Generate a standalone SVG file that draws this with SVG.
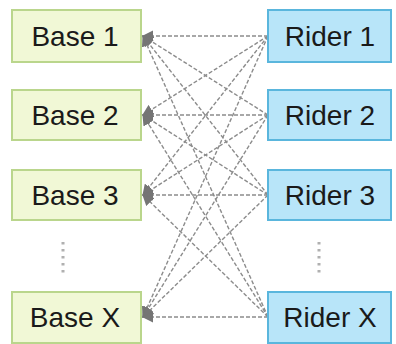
<svg xmlns="http://www.w3.org/2000/svg" width="396" height="344" viewBox="0 0 396 344">
<style>
.base{fill:#F1F8D6;stroke:#BAD68C;stroke-width:2}
.rider{fill:#B8E5F9;stroke:#5AB6DD;stroke-width:2}
.t{font-family:"Liberation Sans",Arial,sans-serif;font-size:28px;fill:#1a1a1a;text-anchor:middle}
.c{fill:none;stroke:#8c8c8c;stroke-width:1.4;stroke-dasharray:4 2;marker-end:url(#ah)}
.dots{stroke:#b0b0b0;stroke-width:3;stroke-dasharray:2.5 4.5}
</style>
<defs>
<marker id="ah" viewBox="0 0 10 10" refX="9" refY="5" markerWidth="8" markerHeight="8" orient="auto" markerUnits="strokeWidth">
<path d="M0,0 L10,5 L0,10 z" fill="#757575"/>
</marker>
</defs>
<rect width="396" height="344" fill="#fff"/>
<g id="connectors">
<line class="c" x1="268" y1="36" x2="143" y2="36"/>
<line class="c" x1="268" y1="36" x2="143" y2="115"/>
<line class="c" x1="268" y1="36" x2="143" y2="195"/>
<line class="c" x1="268" y1="36" x2="143" y2="317"/>
<line class="c" x1="268" y1="115" x2="143" y2="36"/>
<line class="c" x1="268" y1="115" x2="143" y2="115"/>
<line class="c" x1="268" y1="115" x2="143" y2="195"/>
<line class="c" x1="268" y1="115" x2="143" y2="317"/>
<line class="c" x1="268" y1="195" x2="143" y2="36"/>
<line class="c" x1="268" y1="195" x2="143" y2="115"/>
<line class="c" x1="268" y1="195" x2="143" y2="195"/>
<line class="c" x1="268" y1="195" x2="143" y2="317"/>
<line class="c" x1="268" y1="317" x2="143" y2="36"/>
<line class="c" x1="268" y1="317" x2="143" y2="115"/>
<line class="c" x1="268" y1="317" x2="143" y2="195"/>
<line class="c" x1="268" y1="317" x2="143" y2="317"/>
</g>
<g id="base1"><rect class="base" x="12" y="10" width="129" height="52"/><text class="t" x="75" y="46">Base 1</text></g>
<g id="base2"><rect class="base" x="12" y="90" width="129" height="50"/><text class="t" x="75" y="125">Base 2</text></g>
<g id="base3"><rect class="base" x="12" y="170" width="129" height="50"/><text class="t" x="75" y="205">Base 3</text></g>
<g id="baseX"><rect class="base" x="12" y="292" width="129" height="51"/><text class="t" x="75" y="327">Base X</text></g>
<g id="rider1"><rect class="rider" x="268" y="10" width="123" height="52"/><text class="t" x="330" y="46">Rider 1</text></g>
<g id="rider2"><rect class="rider" x="268" y="90" width="123" height="50"/><text class="t" x="330" y="125">Rider 2</text></g>
<g id="rider3"><rect class="rider" x="268" y="170" width="123" height="50"/><text class="t" x="330" y="205">Rider 3</text></g>
<g id="riderX"><rect class="rider" x="268" y="292" width="123" height="51"/><text class="t" x="330" y="327">Rider X</text></g>
<line class="dots" x1="63" y1="242" x2="63" y2="275"/>
<line class="dots" x1="319" y1="242" x2="319" y2="275"/>
</svg>
